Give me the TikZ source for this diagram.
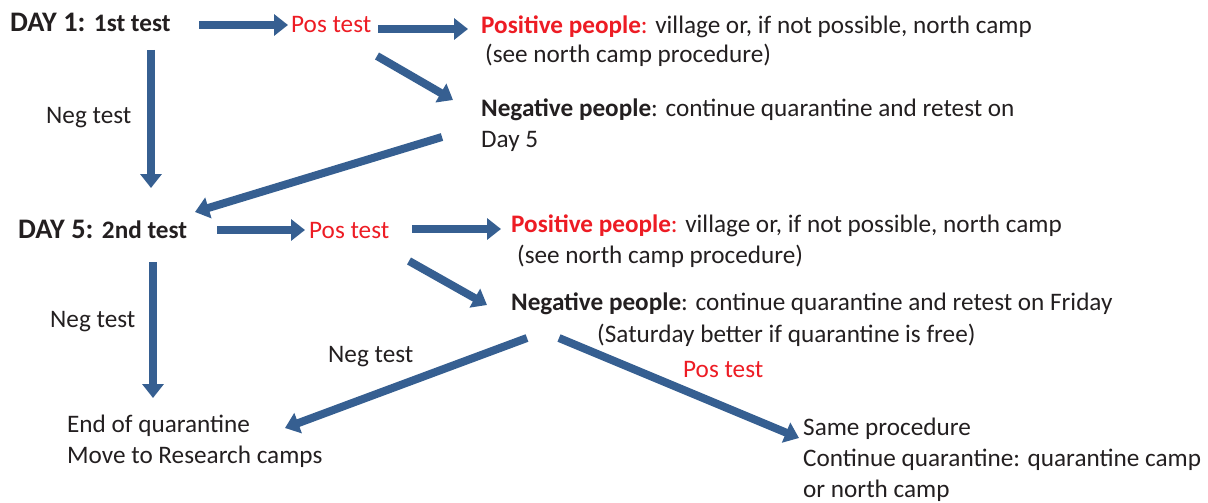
\documentclass[tikz,border=0pt]{standalone}
\usepackage{fontspec}
\setmainfont{Carlito}
\usetikzlibrary{arrows.meta}
\definecolor{arrblue}{RGB}{54,95,145}
\definecolor{txtred}{RGB}{237,28,36}
\definecolor{txtdark}{RGB}{35,31,32}
\begin{document}
\begin{tikzpicture}[x=1pt,y=-1pt,
  txt/.style={anchor=base west,inner sep=0pt,font=\fontsize{25.2}{31}\selectfont,text=txtdark},
  redtxt/.style={txt,text=txtred},
  flow/.style={draw=arrblue,line width=8pt,line cap=butt,-{Triangle[length=14pt,width=21pt]}}]
\useasboundingbox (0,0) rectangle (1208,503);
% texts
\node[txt] (day1) at (10,32) {\bfseries\fontsize{28.3}{31}\selectfont DAY 1: \fontsize{25.2}{31}\selectfont 1st test};
\node[redtxt] (pos1) at (291,33) {Pos test};
\node[txt] (pp1) at (481,34) {\textcolor{txtred}{\textbf{Positive people}:} village or, if not possible, north camp};
\node[txt] (pp1b) at (485,63) {(see north camp procedure)};
\node[txt] (neg1) at (46,123) {Neg test};
\node[txt] (np1) at (481,117) {\textbf{Negative people}: continue quarantine and retest on};
\node[txt] (np1b) at (481,147) {Day 5};
\node[txt] (day5) at (18,238) {\bfseries\fontsize{28.3}{31}\selectfont DAY 5: \fontsize{25.2}{31}\selectfont 2nd test};
\node[redtxt] (pos2) at (309,238) {Pos test};
\node[txt] (pp2) at (511,232) {\textcolor{txtred}{\textbf{Positive people}:} village or, if not possible, north camp};
\node[txt] (pp2b) at (517,263) {(see north camp procedure)};
\node[txt] (neg2) at (50,327) {Neg test};
\node[txt] (np2) at (511,310) {\textbf{Negative people}: continue quarantine and retest on Friday};
\node[txt] (np2b) at (597,342) {(Saturday better if quarantine is free)};
\node[txt] (neg3) at (328,362) {Neg test};
\node[redtxt] (pos3) at (683,377) {Pos test};
\node[txt] (end1) at (67,432) {End of quarantine};
\node[txt] (end2) at (67,463) {Move to Research camps};
\node[txt] (same1) at (803,435) {Same procedure};
\node[txt] (same2) at (803,466) {Continue quarantine: quarantine camp};
\node[txt] (same3) at (803,497) {or north camp};
% arrow end points
\coordinate (a1s) at (199,25);  \coordinate (a1e) at (288,25);
\coordinate (a2s) at (378,29);  \coordinate (a2e) at (468,29);
\coordinate (a3s) at (377,56);  \coordinate (a3e) at (453,100);
\coordinate (a4s) at (151,50);  \coordinate (a4e) at (151,188);
\coordinate (a5s) at (442,137); \coordinate (a5e) at (195,212);
\coordinate (a6s) at (217,230); \coordinate (a6e) at (305,230);
\coordinate (a7s) at (412,229); \coordinate (a7e) at (501,229);
\coordinate (a8s) at (409,261); \coordinate (a8e) at (487,305);
\coordinate (a9s) at (153,262); \coordinate (a9e) at (153,398);
\coordinate (a10s) at (527,338); \coordinate (a10e) at (285,428);
\coordinate (a11s) at (559,338); \coordinate (a11e) at (799,438);
% arrows
\foreach \i in {1,...,11} \draw[flow] (a\i s) -- (a\i e);
\end{tikzpicture}
\end{document}
